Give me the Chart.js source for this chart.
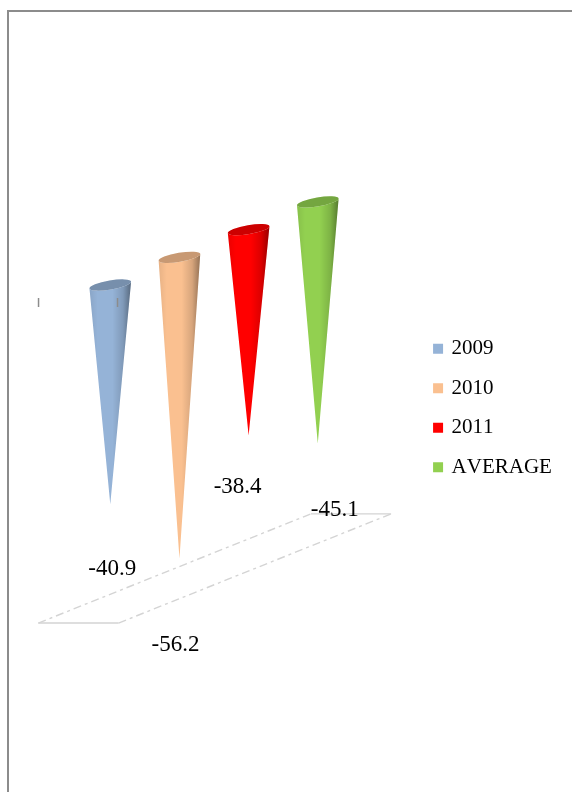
<!DOCTYPE html>
<html>
<head>
<meta charset="utf-8">
<title>Cones</title>
<script src="https://cdn.jsdelivr.net/npm/chart.js@4/dist/chart.umd.js"></script>
<style>
  html, body { margin: 0; padding: 0; background: #fff; overflow: hidden; }
  #frame { position: absolute; left: 7px; top: 10px; width: 600px; height: 820px; border: 2px solid #8c8c8c; box-sizing: border-box; }
  canvas { position: absolute; left: 0; top: 0; }
</style>
</head>
<body>
<div id="frame"></div>
<canvas id="cones" width="572" height="792"></canvas>
<script>
const SERIES = ['2009', '2010', '2011', 'AVERAGE'];
const VALUES = [-40.9, -56.2, -38.4, -45.1];
const COLORS = ['#95b3d7', '#fac090', '#ff0000', '#92d050'];

const DEPTH = 27.7;       // each series sits this many px further up
const FLOOR_VALUE = -60.7;
const SERIF = '"Liberation Serif", serif';

// bar whose rectangle is painted as a cone hanging from the zero line
class ConeElement extends Chart.BarElement {
    static id = 'cone';

    draw(ctx) {
        const { x, y, base, width } = this.getProps(['x', 'y', 'base', 'width']);
        const rx = width / 2;
        const tilt = -0.165;
        const dx = rx * Math.cos(tilt);
        const dy = rx * Math.sin(tilt);

        const outline = () => {
            ctx.beginPath();
            ctx.ellipse(x, base, rx, 4.5, tilt, 0, Math.PI);
            ctx.lineTo(x - dx, base - dy);
            ctx.lineTo(x, y);
            ctx.lineTo(x + dx, base + dy);
            ctx.closePath();
        };

        const shadow = ctx.createLinearGradient(x - rx, 0, x + rx, 0);
        shadow.addColorStop(0, 'rgba(0,0,0,0.08)');
        shadow.addColorStop(0.2, 'rgba(0,0,0,0)');
        shadow.addColorStop(0.55, 'rgba(0,0,0,0)');
        shadow.addColorStop(0.8, 'rgba(0,0,0,0.14)');
        shadow.addColorStop(1, 'rgba(0,0,0,0.42)');

        ctx.save();
        ctx.fillStyle = this.options.backgroundColor;
        outline();
        ctx.fill();
        ctx.fillStyle = shadow;
        outline();
        ctx.fill();

        // open top of the cone
        ctx.fillStyle = this.options.backgroundColor;
        ctx.beginPath();
        ctx.ellipse(x, base, rx, 4.5, tilt, 0, Math.PI * 2);
        ctx.fill();
        ctx.fillStyle = 'rgba(0,0,0,0.2)';
        ctx.fill();
        ctx.restore();
    }
}

class ConeController extends Chart.BarController {
    static id = 'cone';
    static defaults = { ...Chart.BarController.defaults, dataElementType: 'cone' };

    draw() {
        const ctx = this.chart.ctx;
        ctx.save();
        ctx.translate(0, -DEPTH * this.index);
        super.draw();
        ctx.restore();
    }
}

Chart.register(ConeController, ConeElement);

const floorPlugin = {
    id: 'floor',
    // the canvas gets reset when the chart sizes it, so kerning is turned off here
    beforeUpdate(chart) {
        chart.ctx.fontKerning = 'none';
    },
    beforeDatasetsDraw(chart) {
        const ctx = chart.ctx;
        const first = chart.getDatasetMeta(0).data[0];
        const last = chart.getDatasetMeta(SERIES.length - 1).data[0];
        const step = (last.x - first.x) / (SERIES.length - 1);
        const half = step * 0.58;
        const floorY = chart.scales.y.getPixelForValue(FLOOR_VALUE);
        const frontX = first.x - step * 0.46;
        const frontY = floorY + DEPTH * 0.46;
        const backX = last.x + step * 0.48;
        const backY = floorY - DEPTH * 3.48;

        ctx.save();
        ctx.strokeStyle = '#d4d4d4';
        ctx.lineWidth = 1.4;
        ctx.beginPath();
        ctx.moveTo(frontX - half, frontY);
        ctx.lineTo(frontX + half, frontY);
        ctx.moveTo(backX - half, backY);
        ctx.lineTo(backX + half, backY);
        ctx.stroke();
        ctx.setLineDash([8, 4, 3, 4]);
        ctx.beginPath();
        ctx.moveTo(frontX - half, frontY);
        ctx.lineTo(backX - half, backY);
        ctx.moveTo(frontX + half, frontY);
        ctx.lineTo(backX + half, backY);
        ctx.stroke();
        ctx.restore();
    },
    afterDatasetsDraw(chart, args, opts) {
        const ctx = chart.ctx;
        const first = chart.getDatasetMeta(0).data[0];
        const zero = chart.scales.y.getPixelForValue(0);

        // two leftover ticks of the category axis
        ctx.save();
        ctx.fillStyle = '#8c8c8c';
        ctx.fillRect(first.x - 72.5, zero + 13, 1.5, 9);
        ctx.fillRect(first.x + 6.5, zero + 13, 1.5, 9);

        // value labels, placed relative to each cone's tip
        ctx.fillStyle = '#000';
        ctx.font = '23px ' + SERIF;
        ctx.textAlign = 'center';
        ctx.textBaseline = 'middle';
        VALUES.forEach((value, i) => {
            const tip = chart.getDatasetMeta(i).data[0];
            const [sx, sy] = opts.labelShift[i];
            ctx.fillText(value.toFixed(1), tip.x + sx, tip.y - DEPTH * i + sy);
        });
        ctx.restore();
    }
};

new Chart(document.getElementById('cones').getContext('2d'), {
    type: 'cone',
    plugins: [floorPlugin],
    data: {
        labels: [''],
        datasets: SERIES.map((name, i) => ({
            label: name,
            data: [VALUES[i]],
            backgroundColor: COLORS[i],
            borderColor: COLORS[i],
            borderWidth: 4,
        })),
    },
    options: {
        responsive: false,
        animation: false,
        categoryPercentage: 0.683,
        barPercentage: 0.61,
        layout: { padding: { left: 11.5, right: 10.1, top: 24, bottom: 0 } },
        scales: {
            x: { display: false },
            y: { display: false, min: -94.6, max: 48.7 },
        },
        plugins: {
            tooltip: { enabled: false },
            floor: { labelShift: [[2, 65], [-4, 86.5], [-11, 52], [17, 66]] },
            legend: {
                position: 'right',
                labels: {
                    boxWidth: 6,
                    boxHeight: 6,
                    padding: 18.5,
                    color: '#000',
                    font: { family: SERIF, size: 21 },
                },
            },
        },
    },
});
</script>
</body>
</html>
